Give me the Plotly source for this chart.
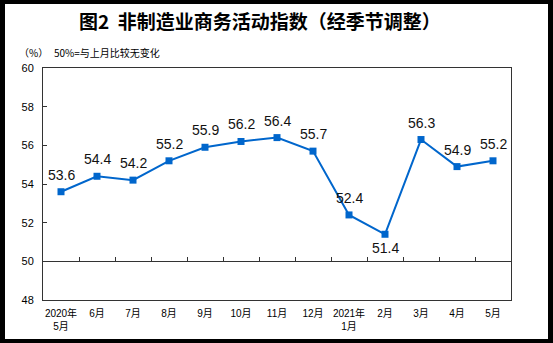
import plotly.graph_objects as go

# Monthly non-manufacturing business activity index (seasonally adjusted)
months = ["2020年<br>5月", "6月", "7月", "8月", "9月", "10月", "11月", "12月",
          "2021年<br>1月", "2月", "3月", "4月", "5月"]
index_values = [53.6, 54.4, 54.2, 55.2, 55.9, 56.2, 56.4, 55.7, 52.4, 51.4, 56.3, 54.9, 55.2]
y_ticks = [48, 50, 52, 54, 56, 58, 60]

W, H = 553, 343
L, R, T, B = 43, 42, 68, 43
pw, ph = W - L - R, H - T - B

fig = go.Figure()
fig.add_trace(go.Scatter(
    x=months, y=index_values,
    mode="lines+markers",
    line=dict(color="#0066CC", width=2),
    marker=dict(symbol="square", size=7, color="#0066CC"),
    cliponaxis=False,
    showlegend=False,
    xaxis="x", yaxis="y",
))

# invisible trace on the secondary axis so the 50 baseline carries category ticks
fig.add_trace(go.Scatter(x=months, y=index_values, mode="none", showlegend=False,
                         hoverinfo="skip", xaxis="x2", yaxis="y"))

frame = dict(family="Liberation Sans, Arial", size=11, color="#000000")

# value labels: above each point, below the lowest one
low = min(index_values)
value_labels = [
    dict(x=m, y=v, xref="x", yref="y", text=f"{v:.1f}", showarrow=False,
         xanchor="center", yanchor="middle", yshift=-14 if v == low else 17,
         font=dict(family="Liberation Sans, Arial", size=14, color="#111111"))
    for m, v in zip(months, index_values)
]

fig.update_layout(
    width=W, height=H,
    margin=dict(l=L, r=R, t=T, b=B),
    paper_bgcolor="#000000",
    plot_bgcolor="#ffffff",
    xaxis=dict(
        type="category", categoryorder="array", categoryarray=months,
        range=[-0.5, len(months) - 0.5],
        showline=True, linecolor="#333333", linewidth=1, mirror=True,
        showgrid=False, zeroline=False, ticks="",
        tickfont=dict(family="Liberation Sans, Noto Sans CJK SC", size=10, color="#000000"),
        ticklabelstandoff=4,
    ),
    xaxis2=dict(
        type="category", categoryorder="array", categoryarray=months,
        range=[-0.5, len(months) - 0.5],
        overlaying="x", anchor="free", position=(50 - 48) / (60 - 48), side="bottom",
        showline=True, linecolor="#333333", linewidth=1,
        showgrid=False, zeroline=False, showticklabels=False,
        ticks="inside", ticklen=4, tickcolor="#333333", tickson="boundaries",
    ),
    yaxis=dict(
        range=[48, 60], tickvals=y_ticks,
        showline=True, linecolor="#333333", linewidth=1, mirror=True,
        showgrid=False, zeroline=False,
        ticks="inside", ticklen=4, tickcolor="#333333",
        tickfont=frame, ticklabelstandoff=6,
    ),
    shapes=[dict(
        type="rect", xref="paper", yref="paper", layer="below",
        x0=(5 - L) / pw, x1=(548 - L) / pw,
        y0=(H - B - 339) / ph, y1=(H - B - 4) / ph,
        fillcolor="#ffffff", line=dict(width=0),
    )],
    annotations=value_labels + [
        dict(text="<b>图2  非制造业商务活动指数（经季节调整）</b>",
             xref="paper", yref="paper", x=(260 - L) / pw, y=(H - B - 21) / ph,
             xanchor="center", yanchor="middle", showarrow=False,
             font=dict(family="Noto Sans CJK SC", size=19, color="#000000")),
        dict(text="（%）", xref="paper", yref="paper",
             x=(17 - L) / pw, y=(H - B - 53) / ph, xanchor="left", yanchor="middle",
             showarrow=False, font=dict(family="Noto Sans CJK SC", size=10, color="#000000")),
        dict(text="50%=与上月比较无变化", xref="paper", yref="paper",
             x=(52 - L) / pw, y=(H - B - 53) / ph, xanchor="left", yanchor="middle",
             showarrow=False, font=dict(family="Noto Sans CJK SC", size=10, color="#000000")),
    ],
)

fig.write_html("out.html")
